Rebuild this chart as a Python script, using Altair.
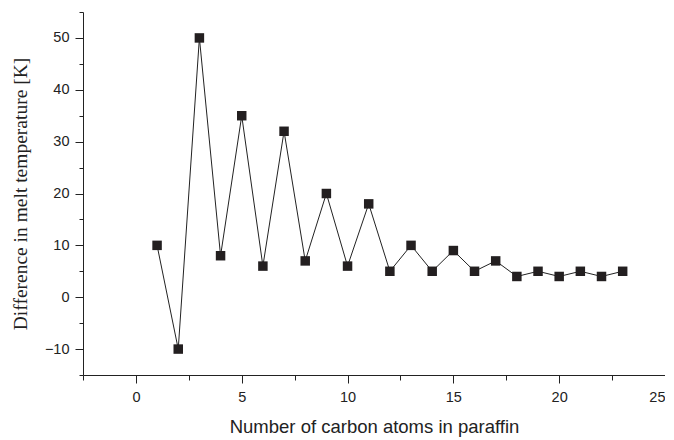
import altair as alt
import pandas as pd

carbon_atoms = list(range(1, 24))
melt_diff = [10, -10, 50, 8, 35, 6, 32, 7, 20, 6, 18, 5, 10, 5, 9, 5, 7, 4, 5, 4, 5, 4, 5]

x_ticks = [-2.5 + 2.5 * i for i in range(12)]
y_ticks = [-15 + 5 * i for i in range(15)]

df = pd.DataFrame({"n": carbon_atoms, "dT": melt_diff})

x_enc = alt.X(
    "n:Q",
    scale=alt.Scale(domain=[-2.5, 25], nice=False, zero=False),
    axis=alt.Axis(
        title="Number of carbon atoms in paraffin",
        values=x_ticks,
        labelExpr="datum.value % 5 === 0 ? datum.label : ''",
        labelOverlap=False,
        grid=False,
        tickSize={"condition": {"test": "datum.value % 5 === 0", "value": 8}, "value": 5},
        labelFont="Liberation Sans",
        labelFontSize=14.5,
        labelColor="#222",
        labelPadding=7,
        titleFont="Liberation Sans",
        titleFontSize=18.5,
        titleFontWeight="normal",
        titleColor="#222",
        titlePadding=14,
        domainColor="#222",
        tickColor="#222",
    ),
)
y_enc = alt.Y(
    "dT:Q",
    scale=alt.Scale(domain=[-15, 55], nice=False, zero=False),
    axis=alt.Axis(
        title="Difference in melt temperature [K]",
        values=y_ticks,
        labelExpr="datum.value % 10 === 0 ? datum.label : ''",
        labelOverlap=False,
        grid=False,
        tickSize={"condition": {"test": "datum.value % 10 === 0", "value": 8}, "value": 4},
        labelFont="Liberation Sans",
        labelFontSize=14.5,
        labelColor="#222",
        labelPadding=6,
        titleFont="Liberation Serif",
        titleFontSize=19.5,
        titleFontWeight="normal",
        titleColor="#222",
        titlePadding=14,
        domainColor="#222",
        tickColor="#222",
    ),
)

line = alt.Chart(df).mark_line(color="#222", strokeWidth=1).encode(x=x_enc, y=y_enc)
pts = alt.Chart(df).mark_point(shape="square", filled=True, size=90, color="#231f20", opacity=1).encode(x=x_enc, y=y_enc)

chart = (
    alt.layer(line, pts)
    .properties(width=582, height=363, autosize=alt.AutoSizeParams(type="none"),
                padding={"left": 75, "top": 4, "right": 0, "bottom": 64})
    .configure(background="white")
    .configure_view(strokeWidth=0)
)

chart.save("out.html", embed_options={"renderer": "svg", "actions": False})
